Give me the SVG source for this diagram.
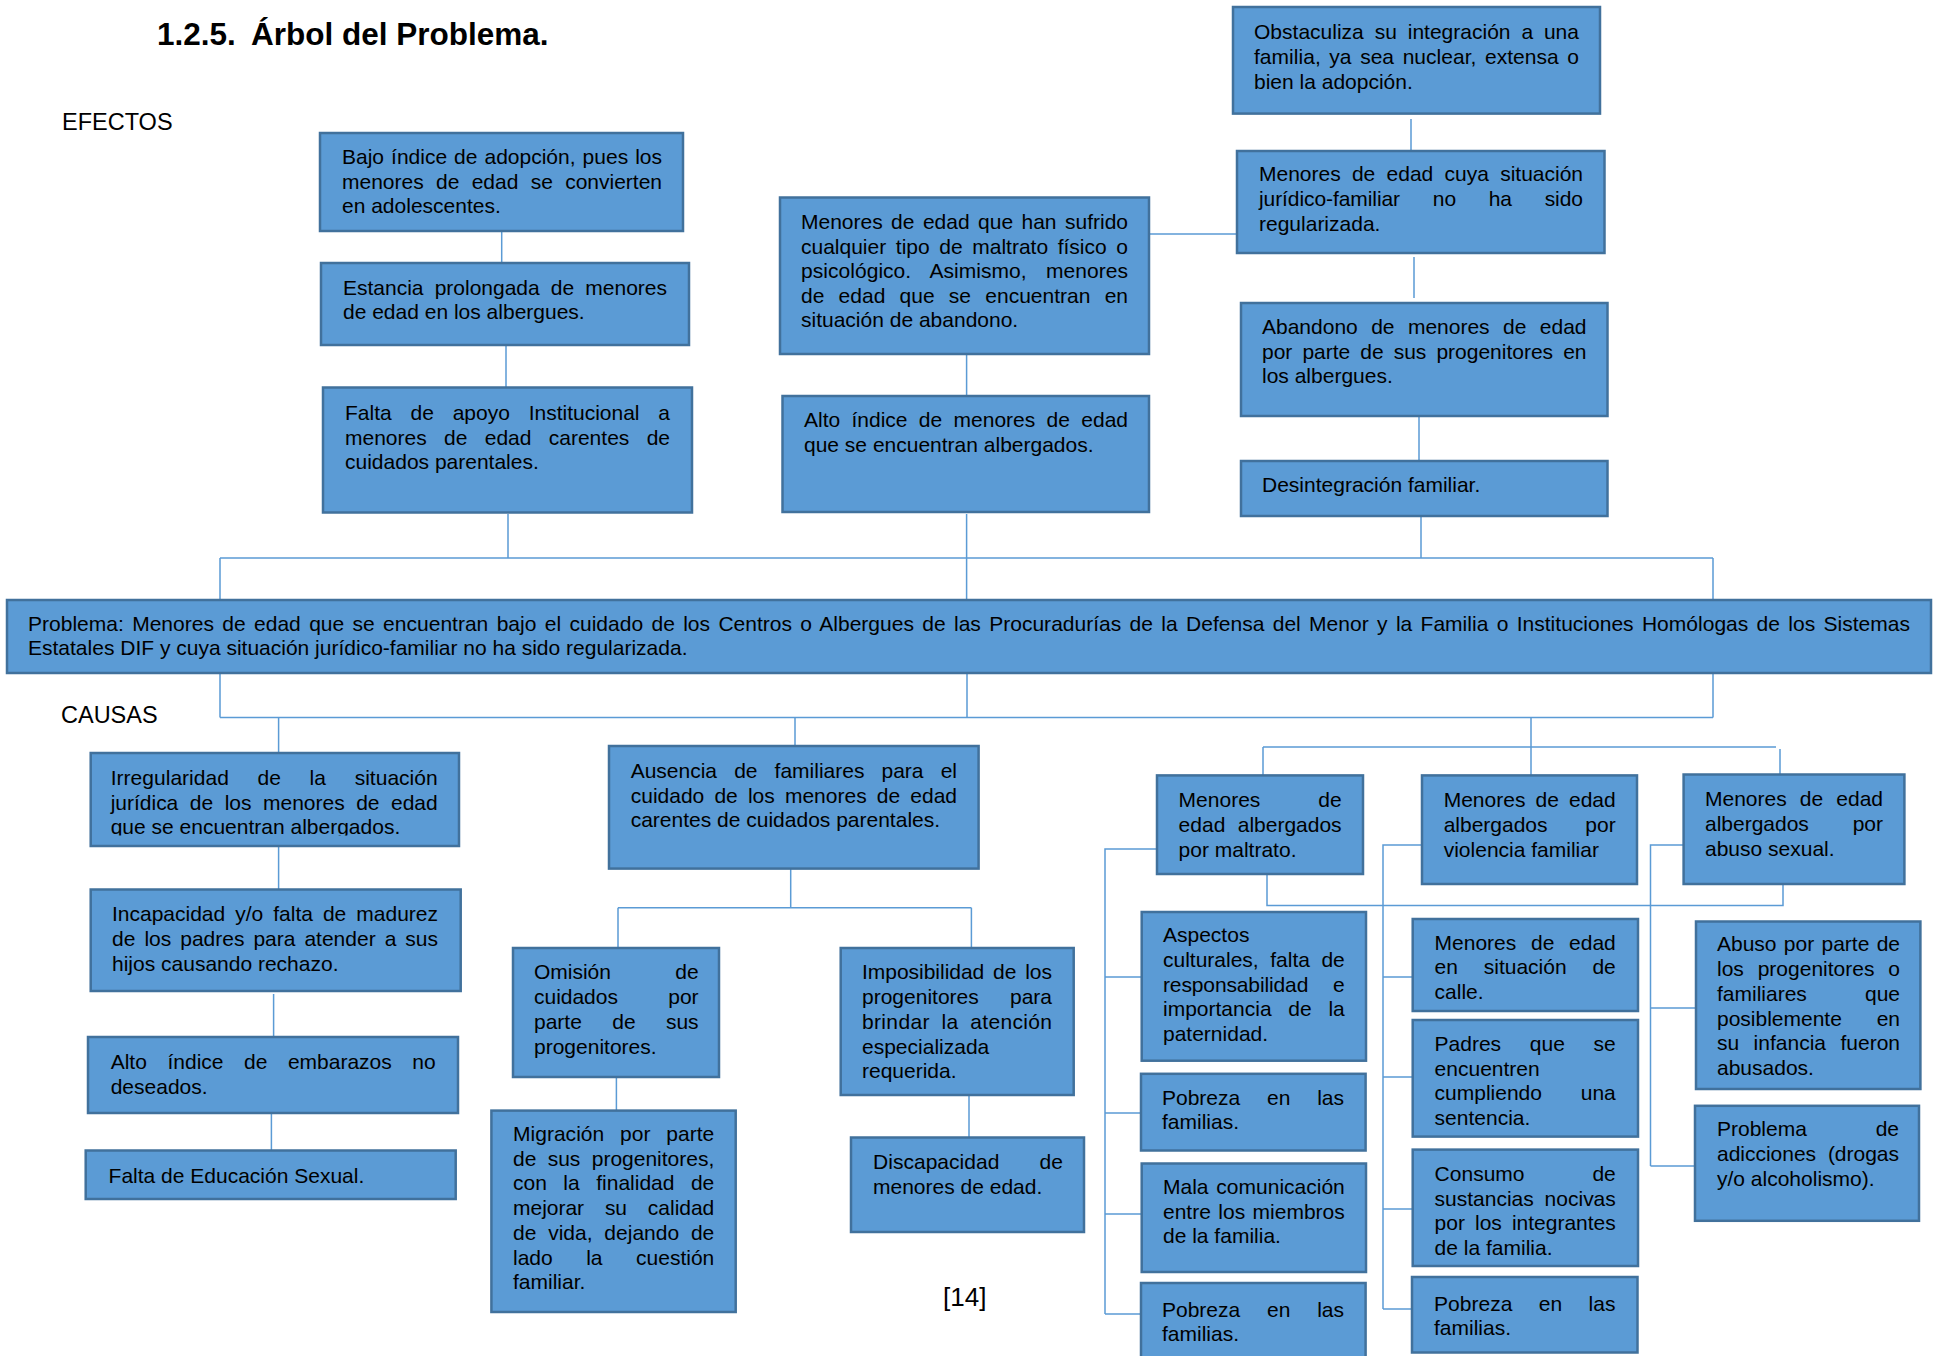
<svg xmlns="http://www.w3.org/2000/svg" width="1938" height="1356" viewBox="0 0 1938 1356">
<defs>
<style>
.box{fill:#5B9BD5;stroke:#41719C;stroke-width:2.5}
.t{font-family:"Liberation Sans",Arial,sans-serif;font-size:21px;fill:#000}
.c{stroke:#5B9BD5;stroke-width:1.5;fill:none}
.h{font-family:"Liberation Sans",Arial,sans-serif;font-size:23.5px;fill:#000}
.title{font-family:"Liberation Sans",Arial,sans-serif;font-size:31.5px;font-weight:bold;fill:#000}
</style>
<clipPath id="clipK1"><rect x="90" y="753" width="370" height="82.5"/></clipPath>
</defs>
<rect width="1938" height="1356" fill="#fff"/>
<g id="heading">
<text class="title" x="157" y="45">1.2.5.</text>
<text class="title" x="251" y="45">Árbol del Problema.</text>
<text class="h" x="62" y="130">EFECTOS</text>
<text class="h" x="61" y="723">CAUSAS</text>
<text class="t" x="943" y="1306" style="font-size:26px">[14]</text>
</g>
<g id="connectors">
<path class="c" d="M501.7 231V263M506 345V387.5M508 514V558M966.6 354V396M966.6 514V600M1149 234H1237M1411 119V152M1414 257V298M1419 416V460M1421 516V558M220 558H1713M220 558V600M1713 558V600"/>
<path class="c" d="M220 673V717.5M1713 673V717.5M967 673V717.5M220 717.5H1713M278.6 717.5V753M278.6 846V889.5M273.6 994V1037M271.4 1113V1150.5M795 717.5V746M790.7 868.6V907.7M618 907.7H971.4M618 907.7V948M971.4 907.7V948M616.4 1077V1110.6M969 1095V1137.5"/>
<path class="c" d="M1531 717.5V775M1263 747H1776M1263 747V775M1780 749V774.5M1267 874V905.5H1783V884"/>
<path class="c" d="M1157 849H1105V1314M1105 977H1141M1105 1113H1141M1105 1214H1141M1105 1314H1141"/>
<path class="c" d="M1422 845H1383V1309M1383 977H1413M1383 1077H1413M1383 1209H1413M1383 1309H1412"/>
<path class="c" d="M1684 845H1650.5V1166M1650.5 1008H1696M1650.5 1166H1695"/>
</g>
<g id="e1">
<rect class="box" x="320" y="133" width="363" height="98"/>
<text class="t" x="342" y="164" textLength="320" lengthAdjust="spacing" word-spacing="1.2">Bajo índice de adopción, pues los</text>
<text class="t" x="342" y="189" textLength="320" lengthAdjust="spacing" word-spacing="6.5">menores de edad se convierten</text>
<text class="t" x="342" y="213">en adolescentes.</text>
</g>
<g id="e2">
<rect class="box" x="321" y="263" width="368" height="82"/>
<text class="t" x="343" y="295" textLength="324" lengthAdjust="spacing" word-spacing="5.3">Estancia prolongada de menores</text>
<text class="t" x="343" y="319">de edad en los albergues.</text>
</g>
<g id="e3">
<rect class="box" x="323" y="387.5" width="369" height="125"/>
<text class="t" x="345" y="420" textLength="325" lengthAdjust="spacing" word-spacing="13">Falta de apoyo Institucional a</text>
<text class="t" x="345" y="445" textLength="325" lengthAdjust="spacing" word-spacing="11.5">menores de edad carentes de</text>
<text class="t" x="345" y="469">cuidados parentales.</text>
</g>
<g id="e4">
<rect class="box" x="780" y="197.5" width="369" height="156.5"/>
<text class="t" x="801" y="229" textLength="327" lengthAdjust="spacing" word-spacing="2.6">Menores de edad que han sufrido</text>
<text class="t" x="801" y="253.5" textLength="327" lengthAdjust="spacing" word-spacing="3.8">cualquier tipo de maltrato físico o</text>
<text class="t" x="801" y="278" textLength="327" lengthAdjust="spacing" word-spacing="13.5">psicológico. Asimismo, menores</text>
<text class="t" x="801" y="302.5" textLength="327" lengthAdjust="spacing" word-spacing="8.4">de edad que se encuentran en</text>
<text class="t" x="801" y="327">situación de abandono.</text>
</g>
<g id="e5">
<rect class="box" x="782.5" y="396" width="366.5" height="116"/>
<text class="t" x="804" y="427" textLength="324" lengthAdjust="spacing" word-spacing="5.5">Alto índice de menores de edad</text>
<text class="t" x="804" y="452">que se encuentran albergados.</text>
</g>
<g id="e6">
<rect class="box" x="1233" y="7" width="367" height="106.6"/>
<text class="t" x="1254" y="38.6" textLength="325" lengthAdjust="spacing" word-spacing="5">Obstaculiza su integración a una</text>
<text class="t" x="1254" y="63.6" textLength="325" lengthAdjust="spacing" word-spacing="2.7">familia, ya sea nuclear, extensa o</text>
<text class="t" x="1254" y="88.6">bien la adopción.</text>
</g>
<g id="e7">
<rect class="box" x="1237" y="151" width="367.5" height="102"/>
<text class="t" x="1259" y="181" textLength="324" lengthAdjust="spacing" word-spacing="5.5">Menores de edad cuya situación</text>
<text class="t" x="1259" y="206" textLength="324" lengthAdjust="spacing" word-spacing="27">jurídico-familiar no ha sido</text>
<text class="t" x="1259" y="231">regularizada.</text>
</g>
<g id="e8">
<rect class="box" x="1241" y="303" width="366.5" height="113"/>
<text class="t" x="1262" y="334" textLength="324.5" lengthAdjust="spacing" word-spacing="7.6">Abandono de menores de edad</text>
<text class="t" x="1262" y="359" textLength="324.5" lengthAdjust="spacing" word-spacing="4.2">por parte de sus progenitores en</text>
<text class="t" x="1262" y="383">los albergues.</text>
</g>
<g id="e9">
<rect class="box" x="1241" y="461" width="366.5" height="55"/>
<text class="t" x="1262" y="492">Desintegración familiar.</text>
</g>
<g id="problem">
<rect class="box" x="7" y="600" width="1924" height="73"/>
<text class="t" x="28" y="631" textLength="1882" lengthAdjust="spacing" word-spacing="2.5">Problema: Menores de edad que se encuentran bajo el cuidado de los Centros o Albergues de las Procuradurías de la Defensa del Menor y la Familia o Instituciones Homólogas de los Sistemas</text>
<text class="t" x="28" y="655">Estatales DIF y cuya situación jurídico-familiar no ha sido regularizada.</text>
</g>
<g id="k1">
<rect class="box" x="90.7" y="753" width="368.3" height="93"/>
<text class="t" x="110.7" y="785" textLength="327" lengthAdjust="spacing" word-spacing="22.8">Irregularidad de la situación</text>
<text class="t" x="110.7" y="809.5" textLength="327" lengthAdjust="spacing" word-spacing="5.7">jurídica de los menores de edad</text>
<text class="t" x="110.7" y="834" clip-path="url(#clipK1)">que se encuentran albergados.</text>
</g>
<g id="k2">
<rect class="box" x="90.7" y="889.5" width="370" height="101.5"/>
<text class="t" x="112" y="921" textLength="326" lengthAdjust="spacing" word-spacing="4.2">Incapacidad y/o falta de madurez</text>
<text class="t" x="112" y="945.5" textLength="326" lengthAdjust="spacing" word-spacing="3.2">de los padres para atender a sus</text>
<text class="t" x="112" y="970.5">hijos causando rechazo.</text>
</g>
<g id="k3">
<rect class="box" x="88" y="1037" width="370" height="76"/>
<text class="t" x="110.7" y="1069" textLength="325" lengthAdjust="spacing" word-spacing="14.7">Alto índice de embarazos no</text>
<text class="t" x="110.7" y="1094">deseados.</text>
</g>
<g id="k4">
<rect class="box" x="85.7" y="1150.5" width="370" height="48.5"/>
<text class="t" x="108.6" y="1183">Falta de Educación Sexual.</text>
</g>
<g id="a1">
<rect class="box" x="609" y="746" width="369.6" height="122.6"/>
<text class="t" x="630.7" y="777.6" textLength="326.3" lengthAdjust="spacing" word-spacing="11.3">Ausencia de familiares para el</text>
<text class="t" x="630.7" y="802.7" textLength="326.3" lengthAdjust="spacing" word-spacing="4.3">cuidado de los menores de edad</text>
<text class="t" x="630.7" y="827.4">carentes de cuidados parentales.</text>
</g>
<g id="a2">
<rect class="box" x="513" y="948" width="206" height="129"/>
<text class="t" x="534" y="979" textLength="164.6" lengthAdjust="spacing" word-spacing="58.6">Omisión de</text>
<text class="t" x="534" y="1004" textLength="164.6" lengthAdjust="spacing" word-spacing="44.6">cuidados por</text>
<text class="t" x="534" y="1029" textLength="164.6" lengthAdjust="spacing" word-spacing="24.5">parte de sus</text>
<text class="t" x="534" y="1054">progenitores.</text>
</g>
<g id="a3">
<rect class="box" x="491.4" y="1110.6" width="244.3" height="201.4"/>
<text class="t" x="513" y="1140.5" textLength="201.3" lengthAdjust="spacing" word-spacing="10">Migración por parte</text>
<text class="t" x="513" y="1165.5" textLength="201.3" lengthAdjust="spacing" word-spacing="5.5">de sus progenitores,</text>
<text class="t" x="513" y="1190" textLength="201.3" lengthAdjust="spacing" word-spacing="10.7">con la finalidad de</text>
<text class="t" x="513" y="1215" textLength="201.3" lengthAdjust="spacing" word-spacing="15">mejorar su calidad</text>
<text class="t" x="513" y="1240" textLength="201.3" lengthAdjust="spacing" word-spacing="6">de vida, dejando de</text>
<text class="t" x="513" y="1264.6" textLength="201.3" lengthAdjust="spacing" word-spacing="27.6">lado la cuestión</text>
<text class="t" x="513" y="1289">familiar.</text>
</g>
<g id="a4">
<rect class="box" x="840.7" y="948" width="233" height="147"/>
<text class="t" x="862" y="979" textLength="190" lengthAdjust="spacing" word-spacing="3">Imposibilidad de los</text>
<text class="t" x="862" y="1004" textLength="190" lengthAdjust="spacing" word-spacing="25.4">progenitores para</text>
<text class="t" x="862" y="1029" textLength="190" lengthAdjust="spacing" word-spacing="5.5">brindar la atención</text>
<text class="t" x="862" y="1054">especializada</text>
<text class="t" x="862" y="1078">requerida.</text>
</g>
<g id="a5">
<rect class="box" x="851" y="1137.5" width="233" height="94.5"/>
<text class="t" x="873" y="1169" textLength="190" lengthAdjust="spacing" word-spacing="34.3">Discapacidad de</text>
<text class="t" x="873" y="1194">menores de edad.</text>
</g>
<g id="m1">
<rect class="box" x="1157" y="775.4" width="206" height="98.6"/>
<text class="t" x="1178.6" y="806.6" textLength="163" lengthAdjust="spacing" word-spacing="52">Menores de</text>
<text class="t" x="1178.6" y="831.8" textLength="163" lengthAdjust="spacing" word-spacing="6.6">edad albergados</text>
<text class="t" x="1178.6" y="857">por maltrato.</text>
</g>
<g id="m2">
<rect class="box" x="1422" y="775.4" width="215" height="108.6"/>
<text class="t" x="1443.7" y="806.6" textLength="172" lengthAdjust="spacing" word-spacing="4.3">Menores de edad</text>
<text class="t" x="1443.7" y="831.8" textLength="172" lengthAdjust="spacing" word-spacing="32">albergados por</text>
<text class="t" x="1443.7" y="857">violencia familiar</text>
</g>
<g id="m3">
<rect class="box" x="1683.6" y="774.5" width="220.8" height="109.5"/>
<text class="t" x="1705" y="806" textLength="178" lengthAdjust="spacing" word-spacing="7.3">Menores de edad</text>
<text class="t" x="1705" y="831" textLength="178" lengthAdjust="spacing" word-spacing="38">albergados por</text>
<text class="t" x="1705" y="855.6">abuso sexual.</text>
</g>
<g id="l1">
<rect class="box" x="1141.7" y="912" width="224.3" height="148.7"/>
<text class="t" x="1163" y="942.4">Aspectos</text>
<text class="t" x="1163" y="967" textLength="181.8" lengthAdjust="spacing" word-spacing="5.7">culturales, falta de</text>
<text class="t" x="1163" y="992" textLength="181.8" lengthAdjust="spacing" word-spacing="19.2">responsabilidad e</text>
<text class="t" x="1163" y="1016" textLength="181.8" lengthAdjust="spacing" word-spacing="10.9">importancia de la</text>
<text class="t" x="1163" y="1040.8">paternidad.</text>
</g>
<g id="l2">
<rect class="box" x="1141" y="1073.8" width="224.6" height="76.7"/>
<text class="t" x="1162" y="1105" textLength="182" lengthAdjust="spacing" word-spacing="21">Pobreza en las</text>
<text class="t" x="1162" y="1129">familias.</text>
</g>
<g id="l3">
<rect class="box" x="1141.7" y="1163.5" width="224.3" height="108.5"/>
<text class="t" x="1163" y="1194" textLength="181.8" lengthAdjust="spacing" word-spacing="2">Mala comunicación</text>
<text class="t" x="1163" y="1219" textLength="181.8" lengthAdjust="spacing" word-spacing="1.6">entre los miembros</text>
<text class="t" x="1163" y="1243">de la familia.</text>
</g>
<g id="l4">
<rect class="box" x="1141" y="1283" width="224.6" height="80"/>
<text class="t" x="1162" y="1316.6" textLength="182" lengthAdjust="spacing" word-spacing="21">Pobreza en las</text>
<text class="t" x="1162" y="1341">familias.</text>
</g>
<g id="n1">
<rect class="box" x="1412.7" y="919" width="225.3" height="92"/>
<text class="t" x="1434.6" y="949.7" textLength="181.2" lengthAdjust="spacing" word-spacing="8.9">Menores de edad</text>
<text class="t" x="1434.6" y="974" textLength="181.2" lengthAdjust="spacing" word-spacing="20">en situación de</text>
<text class="t" x="1434.6" y="998.7">calle.</text>
</g>
<g id="n2">
<rect class="box" x="1412.7" y="1020" width="225.3" height="116.6"/>
<text class="t" x="1434.6" y="1050.8" textLength="181.2" lengthAdjust="spacing" word-spacing="22.9">Padres que se</text>
<text class="t" x="1434.6" y="1075.5">encuentren</text>
<text class="t" x="1434.6" y="1100" textLength="181.2" lengthAdjust="spacing" word-spacing="33">cumpliendo una</text>
<text class="t" x="1434.6" y="1124.5">sentencia.</text>
</g>
<g id="n3">
<rect class="box" x="1412.7" y="1149.6" width="225.3" height="116.4"/>
<text class="t" x="1434.6" y="1181" textLength="181.2" lengthAdjust="spacing" word-spacing="62">Consumo de</text>
<text class="t" x="1434.6" y="1205.6" textLength="181.2" lengthAdjust="spacing" word-spacing="5">sustancias nocivas</text>
<text class="t" x="1434.6" y="1230" textLength="181.2" lengthAdjust="spacing" word-spacing="4.2">por los integrantes</text>
<text class="t" x="1434.6" y="1254.6">de la familia.</text>
</g>
<g id="n4">
<rect class="box" x="1412" y="1277" width="225.5" height="75.5"/>
<text class="t" x="1434" y="1311" textLength="181.5" lengthAdjust="spacing" word-spacing="20.5">Pobreza en las</text>
<text class="t" x="1434" y="1335">familias.</text>
</g>
<g id="p1">
<rect class="box" x="1696" y="921.5" width="224.4" height="167.5"/>
<text class="t" x="1717" y="951" textLength="183" lengthAdjust="spacing" word-spacing="1.5">Abuso por parte de</text>
<text class="t" x="1717" y="976" textLength="183" lengthAdjust="spacing" word-spacing="8">los progenitores o</text>
<text class="t" x="1717" y="1001" textLength="183" lengthAdjust="spacing" word-spacing="52.3">familiares que</text>
<text class="t" x="1717" y="1025.6" textLength="183" lengthAdjust="spacing" word-spacing="29">posiblemente en</text>
<text class="t" x="1717" y="1050" textLength="183" lengthAdjust="spacing" word-spacing="8.6">su infancia fueron</text>
<text class="t" x="1717" y="1074.6">abusados.</text>
</g>
<g id="p2">
<rect class="box" x="1695" y="1105.8" width="224" height="115"/>
<text class="t" x="1717" y="1136" textLength="182" lengthAdjust="spacing" word-spacing="63">Problema de</text>
<text class="t" x="1717" y="1161" textLength="182" lengthAdjust="spacing" word-spacing="6">adicciones (drogas</text>
<text class="t" x="1717" y="1186">y/o alcoholismo).</text>
</g>
</svg>
